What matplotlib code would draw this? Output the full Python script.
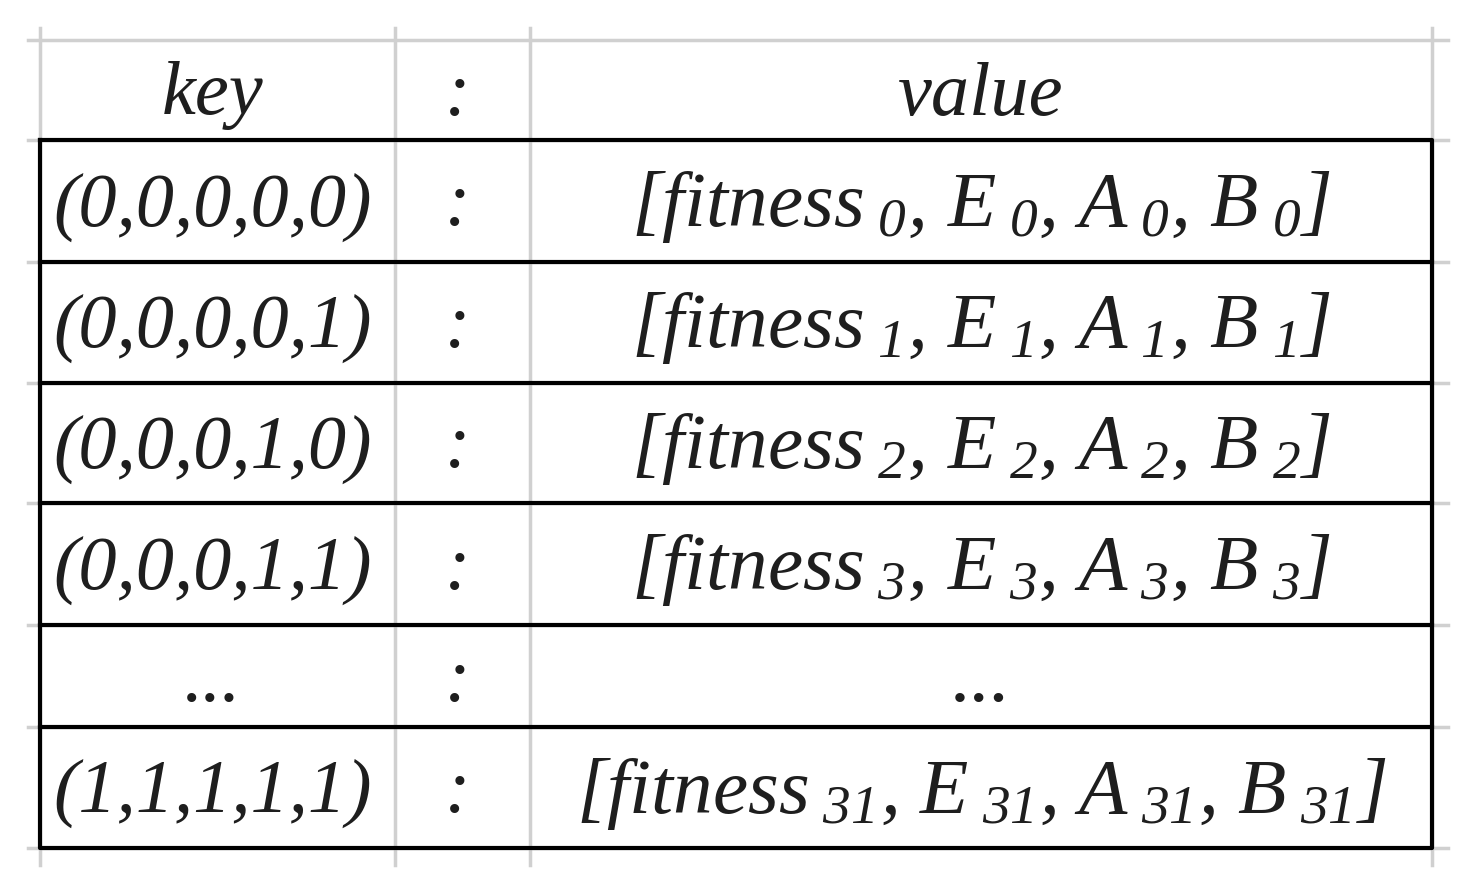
import matplotlib
matplotlib.use("Agg")
import matplotlib.pyplot as plt

plt.rcParams.update({
    "font.family": "Liberation Serif",
    "font.style": "italic",
    "mathtext.fontset": "custom",
    "mathtext.rm": "Liberation Serif:italic",
    "mathtext.it": "Liberation Serif:italic",
    "mathtext.default": "rm",
})

# ----- table content -----
header = ["key", ":", "value"]
keys = ["(0,0,0,0,0)", "(0,0,0,0,1)", "(0,0,0,1,0)", "(0,0,0,1,1)", "...", "(1,1,1,1,1)"]
indices = ["0", "1", "2", "3", None, "31"]

def value_text(i):
    if i is None:
        return "..."
    return (r"[fitness$_{\ %s}$, E$_{\ %s}$, A$_{\ %s}$, B$_{\ %s}$]"
            % (i, i, i, i))

W, H = 1473, 894
fig = plt.figure(figsize=(W / 100, H / 100), dpi=100)
ax = fig.add_axes([0, 0, 1, 1])
ax.set_xlim(0, W)
ax.set_ylim(H, 0)
ax.axis("off")

col_x = [40, 395, 530, 1432]
row_y = [40, 140, 262, 383, 503, 625, 727, 848]

# gray grid
for x in col_x:
    ax.plot([x, x], [28, 865], color="#d0d0d0", lw=2.5, zorder=1)
for y in row_y:
    ax.plot([28, 1448], [y, y], color="#d0d0d0", lw=2.5, zorder=1)

# black borders
ax.plot([col_x[0], col_x[-1], col_x[-1], col_x[0], col_x[0]],
        [row_y[1], row_y[1], row_y[-1], row_y[-1], row_y[1]],
        color="black", lw=3, zorder=2)
for y in row_y[2:-1]:
    ax.plot([col_x[0], col_x[-1]], [y, y], color="black", lw=3, zorder=2)

centers = [(col_x[0] + col_x[1]) / 2 - 5, (col_x[1] + col_x[2]) / 2 - 5,
           (col_x[2] + col_x[3]) / 2]
fs_key = 55
fs_val = 57
col = "#1e1e1e"

for c, t in zip(centers, header):
    ax.text(c, (row_y[0] + row_y[1]) / 2 + 6, t, ha="center", va="center",
            fontsize=fs_key, color=col)

for r, (k, i) in enumerate(zip(keys, indices)):
    yc = (row_y[r + 1] + row_y[r + 2]) / 2 + 6
    ax.text(centers[0], yc, k, ha="center", va="center", fontsize=fs_key, color=col)
    ax.text(centers[1], yc, ":", ha="center", va="center", fontsize=fs_key, color=col)
    ax.text(centers[2], yc, value_text(i), ha="center", va="center",
            fontsize=fs_val, color=col)

fig.savefig("out.png", dpi=100, facecolor="white")
